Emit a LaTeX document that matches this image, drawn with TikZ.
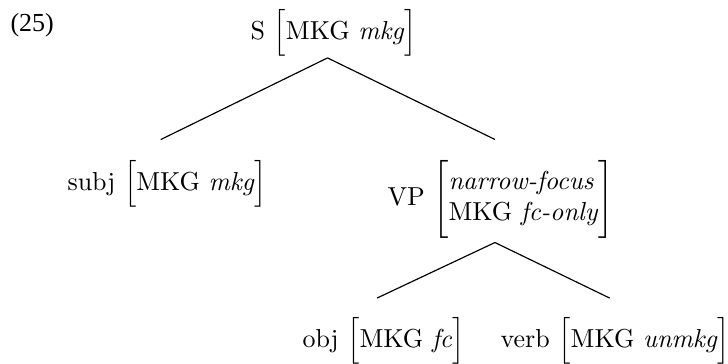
\documentclass[tikz,border=0pt]{standalone}
\usepackage{fontspec}
\newfontfamily\exfont{Liberation Serif}
\begin{document}
\begin{tikzpicture}[x=0.3846pt,y=-0.3846pt,
  lab/.style={inner sep=0pt,anchor=west,font=\fontsize{10}{12}\selectfont},
  edge/.style={line width=0.45pt}]
\useasboundingbox (0,0) rectangle (728,364);
\node[inner sep=0pt,anchor=base west,font=\exfont\fontsize{10}{12}\selectfont] (num) at (10,32) {(25)};
\node[lab] (S) at (250,33) {S $\Big[$MKG \textit{mkg}$\Big]$};
\node[lab] (subj) at (67,183.5) {subj $\Big[$MKG \textit{mkg}$\Big]$};
\node[lab] (VP) at (387,199) {VP $\Bigg[\begin{array}{@{}l@{}}\textit{narrow-focus}\\ \mbox{MKG \textit{fc-only}}\end{array}\Bigg]$};
\node[lab] (obj) at (302,341) {obj $\Big[$MKG \textit{fc}$\Big]$};
\node[lab] (verb) at (500,341) {verb $\Big[$MKG \textit{unmkg}$\Big]$};
\draw[edge] ([shift={(-6,1)}]S.south) -- ([shift={(-6.5,-20)}]subj.north);
\draw[edge] ([shift={(-6,1)}]S.south) -- ([shift={(-5.5,-20)}]VP.north);
\draw[edge] ([shift={(-5.5,4)}]VP.south) -- ([shift={(-6.5,-19)}]obj.north);
\draw[edge] ([shift={(-5.5,4)}]VP.south) -- ([shift={(-5.5,-19)}]verb.north);
\end{tikzpicture}
\end{document}
